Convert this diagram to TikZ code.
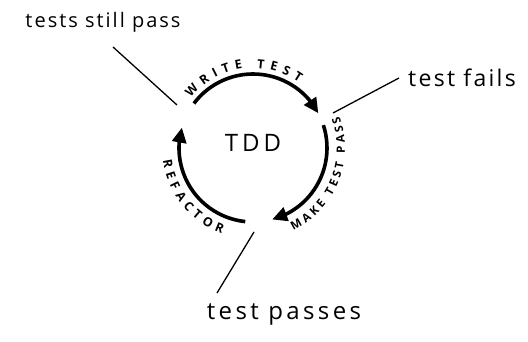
\documentclass[tikz,border=0pt]{standalone}
\usepackage{fontspec}
\setmainfont{Open Sans}
\setsansfont{Open Sans}
\usetikzlibrary{arrows.meta,bending,decorations.text}
\begin{document}
\begin{tikzpicture}[x=1pt,y=1pt,
  cyc/.style={line width=3.6pt,-{Triangle[length=15pt,width=14pt]}},
  lead/.style={line width=1.3pt},
  hand/.style={inner sep=0pt,anchor=base},
  arclab/.style 2 args={decorate,decoration={text along path,text align=fit to path,
     text={|\fontsize{#1}{#1}\selectfont\bfseries|#2}}}
]
\useasboundingbox (0,0) rectangle (528,342);
\coordinate (C) at (253,194);
% cycle arcs
\draw[cyc] ([shift={(143:74)}]C) arc[start angle=143,end angle=28,radius=74];
\draw[cyc] ([shift={(18:74)}]C) arc[start angle=18,end angle=-75,radius=74];
\draw[cyc] ([shift={(264:74)}]C) arc[start angle=264,end angle=164,radius=74];
% arc labels
\path[arclab={12.5}{WRITE TEST}] ([shift={(141:80)}]C) arc[start angle=141,end angle=55,radius=80];
\path[arclab={11.5}{MAKE TEST PASS}] ([shift={(-64:92)}]C) arc[start angle=-64,end angle=20,radius=92];
\path[arclab={12.5}{REFACTOR}] ([shift={(188:91)}]C) arc[start angle=188,end angle=250,radius=91];
% centre
\node[inner sep=0pt] (tdd) at (253,199) {\fontsize{24}{24}\selectfont T\kern4pt D\kern4pt D};
% labels
\node[hand] (still) at (103,314) {\fontsize{20}{20}\selectfont\addfontfeature{LetterSpace=10}tests still pass};
\node[hand] (fails) at (462,255) {\fontsize{23}{23}\selectfont\addfontfeature{LetterSpace=10}test fails};
\node[hand] (passes) at (284,22) {\fontsize{24}{24}\selectfont\addfontfeature{LetterSpace=14}test passes};
% leader lines
\coordinate (s1) at (113,295); \coordinate (s2) at (177,237);
\coordinate (f1) at (399,264); \coordinate (f2) at (333,229);
\coordinate (p1) at (254,110); \coordinate (p2) at (217,49);
\draw[lead] (s1) -- (s2);
\draw[lead] (f1) -- (f2);
\draw[lead] (p1) -- (p2);
\end{tikzpicture}
\end{document}
